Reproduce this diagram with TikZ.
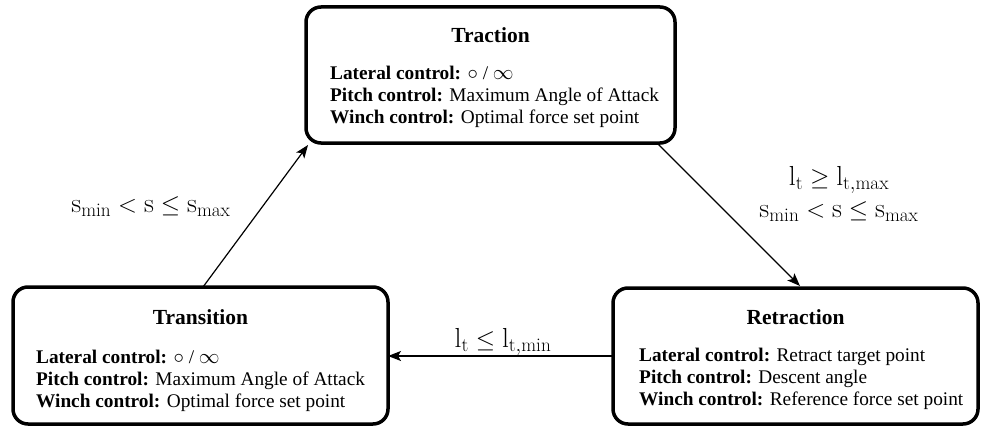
\documentclass[tikz,border=0pt]{standalone}
\usepackage{fontspec}
\newfontfamily\tms{Liberation Serif}
\usetikzlibrary{arrows.meta,calc}
\begin{document}
\begin{tikzpicture}[x=1pt,y=-1pt,
  box/.style={draw, line width=3.5pt, rounded corners=15pt, inner sep=0pt, outer sep=0pt},
  ttl/.style={font=\tms\fontsize{21.5}{24}\selectfont\bfseries, inner sep=0pt},
  body/.style={font=\tms\fontsize{19.3}{22}\selectfont, align=left, anchor=north west, inner sep=0pt},
  lbl/.style={font=\fontsize{27.5}{32}\selectfont, align=center, inner sep=0pt},
  arr/.style={-{Stealth[length=13pt,width=10pt,inset=3pt]}, line width=1.2pt}]
\useasboundingbox (0,0) rectangle (981,428);
% boxes
\node[box, minimum width=369pt, minimum height=136pt] (tract) at (490.5,75) {};
\node[box, minimum width=375pt, minimum height=137pt] (trans) at (200.5,355.5) {};
\node[box, minimum width=365pt, minimum height=136pt] (retr) at (795.5,356) {};
% titles
\node[ttl] (tractT) at (490.5,35) {Traction};
\node[ttl] (transT) at (200.5,317) {Transition};
\node[ttl] (retrT) at (795.5,317) {Retraction};
% bodies
\node[body] (tractB) at (330,66) {\textbf{Lateral control:} $\circ$ / $\infty$\\\textbf{Pitch control:} Maximum Angle of Attack\\\textbf{Winch control:} Optimal force set point};
\node[body] (transB) at (36,350) {\textbf{Lateral control:} $\circ$ / $\infty$\\\textbf{Pitch control:} Maximum Angle of Attack\\\textbf{Winch control:} Optimal force set point};
\node[body] (retrB) at (639,348) {\textbf{Lateral control:} Retract target point\\\textbf{Pitch control:} Descent angle\\\textbf{Winch control:} Reference force set point};
% connectors
\draw[arr] ($(trans.north west)+(190,0)$) -- ($(tract.south west)+(2,2)$);
\draw[arr] ($(tract.south west)+(351,0)$) -- ($(retr.north west)+(187,-2)$);
\draw[arr] (retr.west) -- (retr.west -| trans.east);
% labels
\node[lbl] (l1) at (151,207) {$\mathrm{s_{min}} < \mathrm{s} \leq \mathrm{s_{max}}$};
\node[lbl] (l2) at (839,194) {$\mathrm{l_t} \geq \mathrm{l_{t,max}}$\\$\mathrm{s_{min}} < \mathrm{s} \leq \mathrm{s_{max}}$};
\node[lbl] (l3) at (503,342) {$\mathrm{l_t} \leq \mathrm{l_{t,min}}$};
\end{tikzpicture}
\end{document}
